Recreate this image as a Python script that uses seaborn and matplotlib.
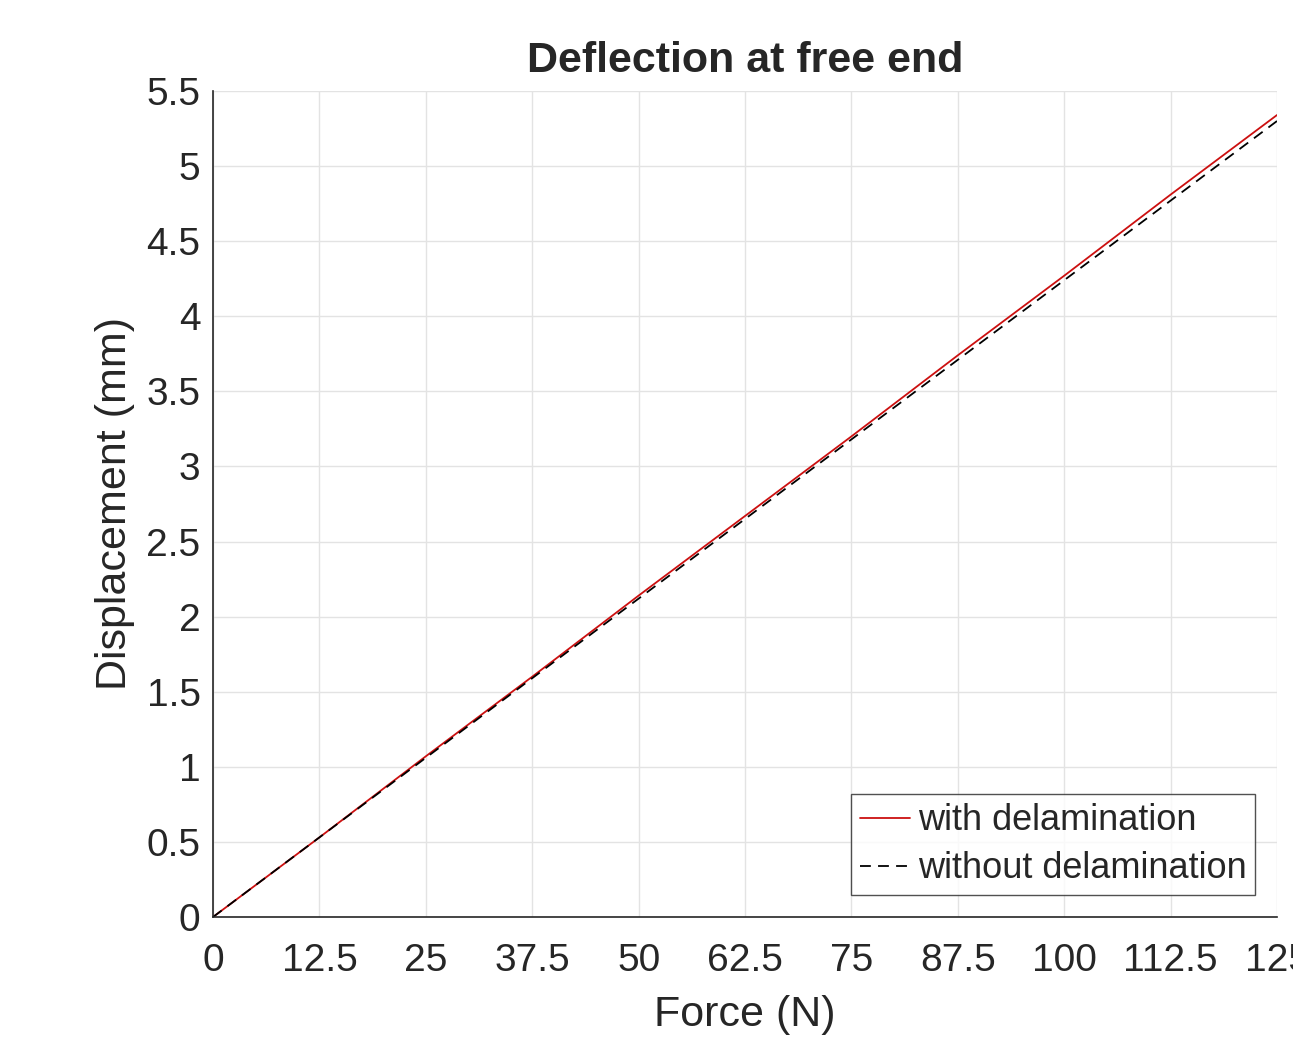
import matplotlib
matplotlib.use("Agg")
import matplotlib.pyplot as plt
import seaborn as sns
import pandas as pd
from matplotlib.ticker import FuncFormatter, MultipleLocator

force = [0, 12.5, 25, 37.5, 50, 62.5, 75, 87.5, 100, 112.5, 125]
with_delam = [0, 0.53, 1.07, 1.60, 2.14, 2.67, 3.20, 3.74, 4.27, 4.81, 5.34]
without_delam = [0, 0.53, 1.06, 1.59, 2.12, 2.65, 3.18, 3.71, 4.24, 4.77, 5.30]
series_names = ["with delamination", "without delamination"]
x_ticks = [0, 12.5, 25, 37.5, 50, 62.5, 75, 87.5, 100, 112.5, 125]

sns.set_style("whitegrid")
plt.rcParams['font.family'] = ['Liberation Sans', 'DejaVu Sans']

fig = plt.figure(figsize=(12.93, 10.38), dpi=100)
ax = fig.add_axes([213/1293, 121/1038, (1277-213)/1293, (917-91)/1038])

df1 = pd.DataFrame({"Force": force, "Disp": with_delam})
df2 = pd.DataFrame({"Force": force, "Disp": without_delam})
sns.lineplot(data=df1, x="Force", y="Disp", ax=ax, color="#cc1010", lw=1.3,
             label=series_names[0])
sns.lineplot(data=df2, x="Force", y="Disp", ax=ax, color="black", lw=1.3,
             linestyle=(0, (6, 4)), label=series_names[1])

ax.set_xlim(0, 125)
ax.set_ylim(0, 5.5)
ax.set_xticks(x_ticks)
ax.yaxis.set_major_locator(MultipleLocator(0.5))
fmt = FuncFormatter(lambda v, p: f"{v:g}")
ax.xaxis.set_major_formatter(fmt)
ax.yaxis.set_major_formatter(fmt)

ax.grid(True, color="#e3e3e3", lw=1.0)
for s in ["top", "right"]:
    ax.spines[s].set_visible(False)
for s in ["left", "bottom"]:
    ax.spines[s].set_color("#262626")
    ax.spines[s].set_linewidth(1.2)
ax.tick_params(direction="in", length=7, width=1.0, color="#262626",
               labelsize=28, labelcolor="#262626")
ax.tick_params(axis="x", pad=19)
ax.tick_params(axis="y", pad=9)

ax.set_xlabel("Force (N)", fontsize=31, color="#262626", labelpad=11)
ax.set_ylabel("Displacement (mm)", fontsize=31, color="#262626", labelpad=8)
ax.set_title("Deflection at free end", fontsize=31, fontweight="bold", pad=14)

leg = ax.legend(loc="lower right", fontsize=26, frameon=True, fancybox=False,
                edgecolor="#262626", handlelength=1.4, handletextpad=0.2,
                borderpad=0.25, labelspacing=0.36, borderaxespad=0.6)
leg.get_frame().set_linewidth(1.0)
for t in leg.get_texts():
    t.set_color("#262626")

fig.savefig("out.png", dpi=100)
